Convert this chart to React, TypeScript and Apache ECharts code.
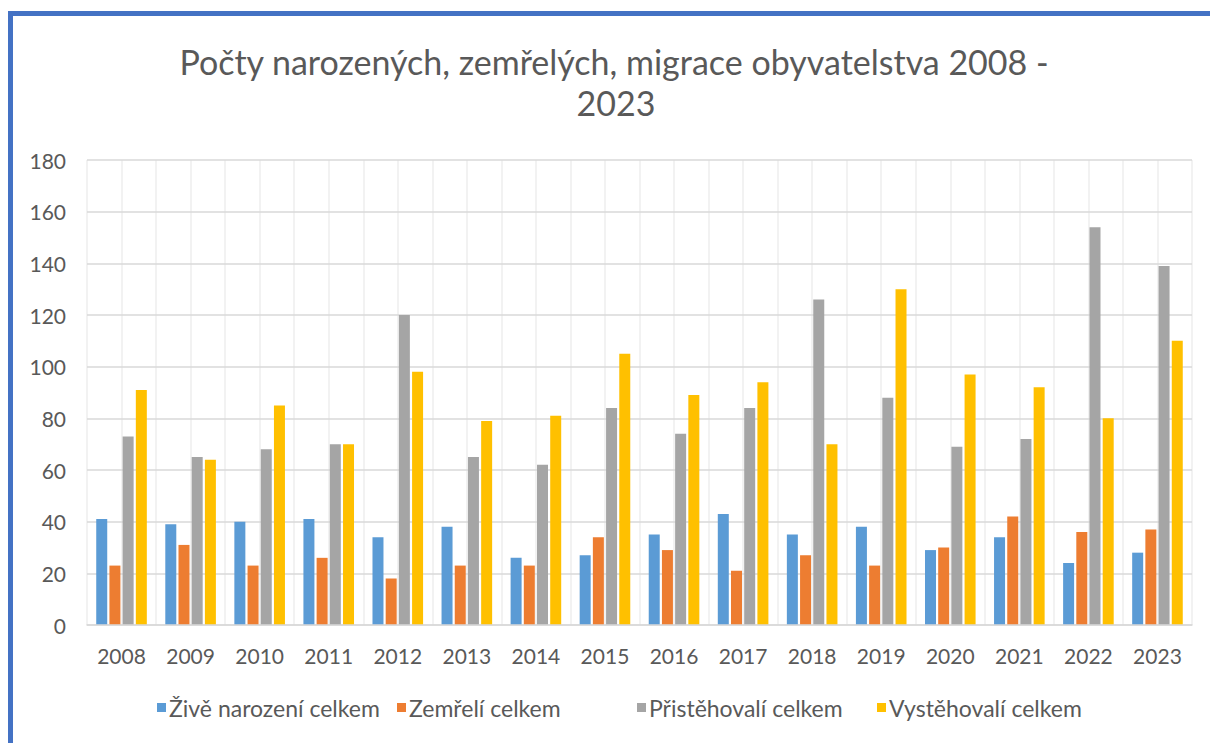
import React, { useEffect, useRef } from "react";
import * as echarts from "echarts";

const years = ["2008", "2009", "2010", "2011", "2012", "2013", "2014", "2015", "2016", "2017", "2018", "2019", "2020", "2021", "2022", "2023"];
const ziveNarozeni = [41, 39, 40, 41, 34, 38, 26, 27, 35, 43, 35, 38, 29, 34, 24, 28];
const zemreli = [23, 31, 23, 26, 18, 23, 23, 34, 29, 21, 27, 23, 30, 42, 36, 37];
const pristehovali = [73, 65, 68, 70, 120, 65, 62, 84, 74, 84, 126, 88, 69, 72, 154, 139];
const vystehovali = [91, 64, 85, 70, 98, 79, 81, 105, 89, 94, 70, 130, 97, 92, 80, 110];

const seriesNames = ["Živě narození celkem", "Zemřelí celkem", "Přistěhovalí celkem", "Vystěhovalí celkem"];
const seriesColors = ["#5B9BD5", "#ED7D31", "#A5A5A5", "#FFC000"];
const titleLines = ["Počty narozených, zemřelých, migrace obyvatelstva 2008 -", "2023"];

const FONT = "Lato";

export default function App() {
  const ref = useRef<HTMLDivElement>(null);
  useEffect(() => {
    if (!ref.current) return;
    const chart = echarts.init(ref.current, null, { renderer: "svg" });
    const values = [ziveNarozeni, zemreli, pristehovali, vystehovali];
    chart.setOption({
      animation: false,
      backgroundColor: "#ffffff",
      textStyle: { fontFamily: FONT },
      graphic: [
        { type: "rect", shape: { x: 8, y: 11, width: 1202, height: 5 }, style: { fill: "#4472C4" }, silent: true },
        { type: "rect", shape: { x: 8, y: 11, width: 5, height: 732 }, style: { fill: "#4472C4" }, silent: true },
        {
          type: "text", x: 614, y: 61,
          style: { text: titleLines[0], fontFamily: FONT, fontSize: 34, fill: "#595959", textAlign: "center", textVerticalAlign: "middle" },
        },
        {
          type: "text", x: 616, y: 102,
          style: { text: titleLines[1], fontFamily: FONT, fontSize: 34, fill: "#595959", textAlign: "center", textVerticalAlign: "middle" },
        },
      ],
      legend: seriesNames.map((name, i) => ({
        data: [name],
        top: 696,
        left: 157 + i * 240,
        padding: 0,
        icon: "rect",
        itemWidth: 9,
        itemHeight: 9,
        textStyle: { fontFamily: FONT, fontSize: 23, color: "#595959", padding: [0, 0, 0, -2] },
      })),
      grid: { left: 87, right: 18, top: 160, bottom: 118, containLabel: false },
      xAxis: [
        {
          type: "category",
          data: years,
          axisLine: { show: true, lineStyle: { color: "#D9D9D9", width: 1.5 } },
          axisTick: { show: false },
          axisLabel: { fontFamily: FONT, fontSize: 21, color: "#595959", margin: 20 },
          splitLine: { show: false },
          z: 3,
        },
        {
          type: "value",
          min: 0,
          max: years.length * 2,
          interval: 1,
          position: "bottom",
          axisLine: { show: false },
          axisTick: { show: false },
          axisLabel: { show: false },
          splitLine: { show: true, lineStyle: { color: "#EEEEEE", width: 1.5 } },
          z: 0,
        },
      ],
      yAxis: {
        type: "value",
        min: 0,
        max: 180,
        interval: 20,
        axisLine: { show: false },
        axisTick: { show: false },
        axisLabel: { fontFamily: FONT, fontSize: 21, color: "#595959", margin: 21 },
        splitLine: { show: true, lineStyle: { color: "#D9D9D9", width: 1.5 } },
        z: 1,
      },
      series: seriesNames.map((name, i) => ({
        name,
        type: "bar",
        xAxisIndex: 0,
        data: values[i],
        barWidth: 11,
        barGap: "20%",
        itemStyle: { color: seriesColors[i] },
      })),
    });
    return () => chart.dispose();
  }, []);
  return <div ref={ref} style={{ position: "absolute", left: 0, top: 0, width: 1210, height: 743 }} />;
}
